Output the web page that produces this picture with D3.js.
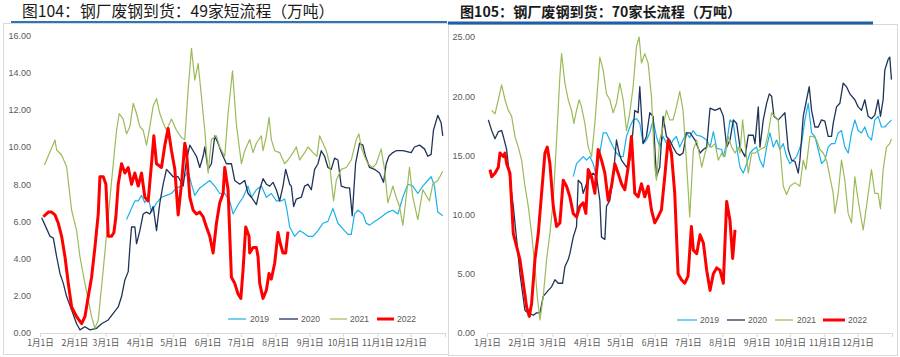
<!DOCTYPE html>
<html><head><meta charset="utf-8">
<script src="https://cdn.jsdelivr.net/npm/d3@7"></script>
<style>body{margin:0;background:#fff}svg{display:block}</style>
</head><body>
<script>
// ---------- data ----------
const monthDays = [0,31,59,90,120,151,181,212,243,273,304,334];
const monthLabels = ["1月1日","2月1日","3月1日","4月1日","5月1日","6月1日","7月1日","8月1日","9月1日","10月1日","11月1日","12月1日"];
const seriesNames = ["2019","2020","2021","2022"];
const leftTitle = "图104：钢厂废钢到货：49家短流程（万吨）";
const rightTitle = "图105：钢厂废钢到货：70家长流程（万吨）";
const leftYTicks = [0,2,4,6,8,10,12,14,16];
const rightYTicks = [0,5,10,15,20,25];

// left chart: [day of year, value]
const left2019 = [[78,6.1],[81,6.5],[85.5,7.1],[88.5,7.1],[91.5,7.4],[94.5,7.0],[97.5,7.3],[100.5,6.5],[105,7.0],[109.5,7.3],[114,7.4],[118.5,7.5],[123,7.8],[127.5,7.9],[130.5,8.4],[133.5,8.7],[136.5,8.0],[139.5,7.4],[144,7.8],[148.5,8.0],[153,8.2],[157.5,7.9],[162,7.5],[166.5,7.5],[171,7.1],[174,6.4],[178.5,6.9],[183,7.3],[187.5,7.9],[190.5,7.3],[195,7.7],[199.5,7.9],[204,7.3],[208.5,7.5],[213,7.1],[217.5,7.1],[220.5,7.2],[222.6,6.6],[225,5.7],[229.5,5.2],[234,5.5],[237,5.4],[241.5,5.2],[246,5.2],[250.5,5.5],[255,5.9],[259.5,6.0],[264,6.7],[268.5,5.9],[273,5.6],[277.5,5.3],[280.5,5.3],[283.5,6.4],[286.5,6.6],[291,6.4],[294,5.9],[297,5.8],[301.5,6.0],[304.5,6.1],[309,6.3],[313.5,6.5],[318,6.6],[322.5,6.4],[327,7.3],[331.5,8.0],[336,7.9],[340.5,7.5],[345,7.9],[349.5,8.2],[352.5,8.4],[355.5,7.9],[358.5,6.5],[363,6.3]];
const left2020 = [[1.5,6.2],[4.5,5.8],[9,5.2],[12,5.1],[15,4.1],[18,3.2],[21,2.67],[24,1.96],[28.5,1.24],[33,0.5],[36,0.17],[40.5,0.34],[45,0.17],[51,0.25],[55.5,0.5],[61.5,0.7],[66,1.06],[70.5,1.4],[73.5,1.96],[76.5,2.85],[79.5,3.3],[81,4.6],[82.5,5.7],[85.5,5.7],[87,4.8],[90,5.5],[93,6.4],[96,6.5],[99,6.4],[102,6.8],[105,5.5],[108,7.0],[111,8.0],[114,8.8],[117,8.6],[120,8.4],[124.5,8.4],[129,7.9],[132,9.3],[135,10.1],[138,9.8],[141,9.5],[144,8.9],[147,9.5],[148.5,10.0],[151.5,8.8],[154.5,9.1],[157.5,10.6],[160.5,10.2],[163.5,9.7],[168,9.1],[172.5,9.1],[175.5,8.2],[180,8.0],[184.5,8.2],[187.5,7.5],[190.5,7.3],[195,6.9],[198,7.7],[201,8.3],[204,8.0],[207,7.9],[210,8.1],[213,7.7],[216,7.1],[219,7.9],[221.4,8.8],[225,8.0],[226.5,7.9],[228.6,6.8],[231,7.2],[235.5,7.3],[238.5,7.9],[241.5,8.0],[244.5,7.7],[247.5,8.8],[250.5,9.1],[253.5,9.8],[256.5,9.5],[259.5,8.9],[262.5,8.8],[265.5,9.4],[268.5,9.3],[271.5,7.9],[276,7.8],[279,7.8],[281.4,6.3],[284.4,9.1],[288,10.2],[291,10.1],[293.4,9.5],[297,8.9],[301.5,8.8],[306,8.6],[309.6,8.1],[312,9.1],[314.4,9.5],[318,9.7],[321,9.8],[327,9.8],[334.5,9.7],[337.5,10.0],[342,10.1],[346.5,9.9],[349.5,9.5],[352.5,9.6],[354.6,10.9],[358.5,11.7],[361.5,11.3],[363,10.6]];
const left2021 = [[4,9.03],[13.5,10.38],[15,9.84],[19.5,9.57],[24,8.94],[28.5,6.6],[33,5.5],[36,4.1],[40.5,2.67],[46.5,0.88],[49.5,0.25],[52.5,0.7],[57,3.4],[61.5,6.25],[66,9.1],[69,10.9],[71.4,11.8],[75,11.5],[78,10.7],[81,11.1],[84,12.35],[87,11.8],[90,11.1],[93,10.9],[96,10.1],[99,11.1],[102,12.2],[105,12.6],[108,11.8],[111,11.3],[114,10.9],[118.5,11.5],[123,10.9],[127.5,10.5],[130.5,10.4],[133.5,13.1],[136.5,15.3],[139.5,13.6],[142.5,14.5],[145.5,12.7],[148.5,10.9],[151.5,8.6],[154.5,10.4],[159,10.6],[162,10.0],[166.5,9.5],[169.5,11.8],[173.5,14.1],[177,11.2],[181.5,9.1],[184.5,9.8],[189,10.4],[192,9.7],[195,10.2],[199.5,10.6],[201,9.8],[204,10.6],[206.4,11.6],[208.5,10.4],[211.5,9.8],[216,9.7],[220.5,9.1],[223.5,9.3],[228,9.7],[231,10.0],[234,9.3],[238.5,9.7],[241.5,10.0],[246,9.7],[249.6,9.5],[252,10.6],[255,10.2],[258,9.8],[261,9.1],[262.5,8.2],[264.6,7.1],[267,8.2],[271.5,8.8],[276,8.9],[280.5,9.3],[285,10.4],[287.4,10.7],[289.5,10.0],[292.5,9.5],[295.5,9.1],[300,8.9],[303,9.1],[307.5,9.9],[310.5,8.8],[313.5,7.0],[318,7.9],[321,7.3],[324,6.8],[327,5.8],[330,7.3],[333,8.9],[336,7.3],[340.5,6.1],[345,7.7],[351,7.1],[354,8.0],[358.5,8.2],[363,8.7]];
const left2022 = [[3,6.25],[7.5,6.5],[10.5,6.5],[13.5,6.35],[16.5,5.9],[19.5,5.2],[22.5,4.1],[25.5,2.67],[28.5,1.4],[33,0.88],[37.5,0.5],[40.5,0.88],[43.5,1.96],[46.5,3.0],[49.5,4.6],[52.5,6.4],[54,8.4],[57,8.4],[59.4,8.0],[61.5,5.2],[64.5,5.2],[66.6,5.4],[68.4,6.25],[70.5,8.0],[73.5,9.1],[76.5,8.6],[79.5,8.9],[82.5,8.0],[85.5,8.6],[88.5,7.9],[91.5,8.6],[94.5,7.3],[97.5,7.1],[100.5,9.1],[102.6,10.6],[105,9.1],[109.5,8.9],[112.5,10.1],[115.5,11.0],[118.5,9.8],[121.5,8.8],[124.5,6.35],[127.5,8.0],[130.5,10.2],[132,9.8],[135,7.3],[138,6.6],[141,6.4],[144,6.5],[147,6.25],[150,5.7],[153,5.2],[156,4.3],[159,5.9],[162,7.0],[165,7.5],[166.5,8.9],[169.5,7.7],[172.5,3.0],[175.5,2.67],[178.5,2.1],[181,1.86],[183,3.4],[185.4,5.7],[188.4,5.2],[189,4.3],[192,4.6],[195,4.6],[196.5,4.1],[198,2.67],[201,1.86],[204,2.3],[206.4,3.2],[208.5,2.9],[211.5,3.75],[214.5,5.4],[216.6,4.8],[219,4.3],[221.4,4.3],[223.5,5.45]];

// right chart
const right2019 = [[77.7,13.2],[80.7,14.3],[83.7,14.6],[86.7,14.9],[89.7,14.6],[92.7,14.9],[95.7,14.3],[98.7,13.2],[101.7,15.2],[104.7,16.9],[107.7,16.9],[110.7,16.3],[113.7,15.7],[116.7,15.2],[119.7,14.9],[122.7,14.9],[125.7,16.6],[128.7,17.4],[131.7,18.0],[134.7,18.1],[137.7,17.7],[140.7,16.0],[143.7,16.3],[146.7,16.9],[149.7,18.0],[152.7,16.6],[155.7,15.7],[158.7,16.6],[161.7,16.0],[164.7,15.7],[167.7,16.3],[170.7,16.6],[173.7,15.7],[176.7,16.3],[179.7,16.9],[182.7,16.5],[185.7,17.1],[189,16.7],[193.5,16.6],[198,16.3],[201,15.7],[204,17.0],[207,15.6],[211.5,15.5],[213,14.9],[216,16.0],[219,18.0],[222,17.7],[225,15.7],[228,14.0],[231,13.5],[234,14.3],[237,15.2],[240,15.5],[243,15.7],[246,14.6],[249,14.0],[252,15.7],[255,16.9],[258,15.7],[261,16.3],[264,15.5],[267,16.0],[270,14.9],[273,14.3],[276,14.6],[279,14.9],[283.5,16.0],[286.5,18.0],[289.5,19.4],[292.5,16.9],[295.5,16.6],[298.5,15.5],[301.5,14.3],[304.5,14.6],[307.5,15.7],[310.5,16.0],[313.5,16.0],[316.5,16.9],[319.5,17.1],[322.5,15.7],[325.5,15.2],[328.5,16.9],[331.5,18.0],[334.5,17.1],[337.5,16.9],[340.5,17.4],[343.5,16.6],[346.5,16.3],[349.5,18.0],[352.5,18.3],[355.5,17.4],[358.5,17.4],[361.5,17.7],[364.5,18.0]];
const right2020 = [[1.2,18.0],[4.2,17.1],[7.2,16.4],[10.2,17.0],[13.2,17.1],[14.7,16.6],[17.7,15.5],[20.7,12.9],[23.7,10.7],[26.7,7.9],[29.7,5.0],[34.2,1.9],[37.2,1.7],[41.7,1.5],[44.7,1.7],[47.7,1.7],[50.7,3.1],[55.2,3.6],[58.2,3.9],[61.2,4.5],[64.2,4.2],[68.1,4.2],[70.2,5.6],[73.2,6.2],[74.7,6.7],[77.7,8.1],[80.7,9.0],[82.2,12.9],[85.2,12.6],[86.7,11.8],[89.7,12.6],[92.7,13.2],[95.7,13.5],[98.7,13.2],[101.7,11.2],[103.2,8.1],[106.2,7.9],[107.7,10.7],[110.7,11.2],[113.7,13.2],[116.7,16.3],[119.1,15.2],[121.2,14.6],[125.7,14.0],[128.7,14.6],[130.2,15.7],[133.2,18.8],[136.2,18.6],[137.7,20.8],[140.7,16.0],[143.7,16.6],[146.7,18.6],[149.7,18.3],[152.7,13.2],[155.7,14.0],[158.7,18.3],[161.7,16.6],[164.7,16.3],[167.7,15.7],[170.7,15.2],[173.7,15.0],[176.7,15.2],[179.7,16.9],[183,16.9],[187.5,16.3],[192,15.2],[195,15.5],[198,15.7],[201,19.0],[205.5,18.8],[210,19.0],[213,18.3],[216,15.7],[219,16.3],[222,18.0],[225,17.7],[228,15.7],[232.5,14.9],[235.5,16.7],[240,16.7],[241.5,16.0],[244.5,19.1],[246,15.7],[249,18.0],[252,19.4],[254.4,20.2],[256.5,20.0],[258.6,18.3],[262.5,18.0],[265.5,18.3],[268.5,18.6],[271.5,15.5],[274.5,14.6],[277.5,14.5],[280.5,13.5],[282,14.6],[285,18.3],[288,19.7],[290.4,20.8],[292.5,18.8],[295.5,17.4],[298.5,17.4],[301.5,18.0],[304.5,17.9],[307.5,16.6],[310.5,16.6],[312,17.7],[315,19.1],[318,19.4],[321,21.1],[324,20.8],[327,20.2],[331.5,19.7],[334.5,19.1],[337.5,18.8],[340.5,19.7],[343.5,18.3],[346.5,18.1],[349.5,18.4],[352.5,19.7],[354.6,18.3],[357,19.7],[358.5,22.2],[361.5,23.1],[363,23.3],[364.5,21.4]];
const right2021 = [[4.2,18.8],[7.2,18.5],[10.2,19.7],[13.2,20.95],[16.2,19.7],[19.2,18.8],[22.2,18.3],[25.2,16.6],[28.2,15.7],[31.2,14.6],[34.2,12.4],[37.2,10.7],[40.2,8.4],[43.2,5.6],[45.3,3.1],[47.7,1.1],[50.7,3.1],[53.7,6.2],[56.7,8.4],[59.7,11.2],[62.7,16.3],[65.7,21.7],[67.2,23.6],[70.2,21.1],[73.2,19.7],[76.2,18.8],[78.3,17.7],[80.7,18.8],[83.1,19.7],[85.2,19.1],[88.2,17.7],[91.2,15.7],[94.2,14.9],[97.2,17.7],[100.2,21.4],[101.7,23.3],[104.7,22.2],[107.7,20.2],[110.7,19.7],[113.7,18.6],[116.7,19.4],[119.7,21.1],[122.7,19.7],[125.7,17.1],[128.7,18.6],[131.7,20.8],[134.7,24.2],[137.1,25.0],[139.2,22.8],[142.2,23.6],[145.2,22.8],[148.2,20.0],[151.2,14.0],[152.7,12.9],[155.7,16.3],[158.7,17.4],[161.7,18.8],[164.7,18.0],[167.7,18.0],[170.7,19.1],[173.7,20.4],[176.7,18.8],[179.7,14.6],[182.7,9.8],[186,15.5],[189,16.3],[193.5,14.0],[196.5,15.2],[199.5,16.0],[202.5,15.7],[205.5,16.0],[208.5,14.6],[211.5,15.2],[214.5,14.9],[217.5,16.6],[220.5,15.7],[223.5,15.2],[226.5,15.7],[228,15.2],[230.4,18.0],[232.5,16.0],[235.5,13.5],[238.5,15.2],[241.5,15.2],[246,15.5],[250.5,15.7],[253.5,16.9],[256.5,18.6],[259.5,18.3],[262.5,18.0],[264,15.7],[267,12.4],[270,11.7],[273,12.4],[277.5,12.7],[282,12.4],[285,14.6],[287.4,13.8],[291,16.6],[294,16.6],[297,16.3],[300,15.5],[303,15.2],[306,14.6],[309,13.2],[312,11.8],[313.5,10.1],[316.5,11.8],[319.5,14.6],[322.5,12.9],[325.5,10.1],[328.5,9.3],[331.5,13.2],[334.5,11.2],[339,8.7],[342,10.7],[346.5,13.8],[349.5,11.8],[352.5,11.8],[354.6,10.5],[357,13.8],[360,15.7],[363,16.0],[364.5,16.4]];
const right2022 = [[2.7,13.8],[4.2,13.2],[7.2,13.5],[10.2,14.0],[11.7,15.2],[14.7,14.9],[16.2,15.2],[17.7,14.3],[20.7,13.5],[23.7,8.4],[26.7,7.3],[29.7,6.2],[32.7,4.2],[35.7,2.2],[38.1,1.4],[40.2,2.5],[43.2,6.2],[46.2,8.4],[49.2,11.8],[52.2,15.2],[54.3,15.7],[56.7,14.3],[59.7,10.7],[62.7,9.0],[65.7,9.3],[68.7,12.9],[71.7,12.4],[74.7,11.5],[77.7,10.1],[80.7,9.8],[83.7,10.7],[86.7,11.0],[89.1,10.1],[91.2,13.8],[94.2,13.2],[97.2,11.8],[100.2,15.5],[103.2,14.6],[106.2,13.5],[109.2,11.2],[112.2,12.4],[115.2,14.3],[118.2,13.5],[121.2,12.6],[124.2,12.1],[127.2,14.0],[130.2,16.6],[133.2,11.8],[136.2,11.5],[139.2,12.6],[142.2,11.5],[145.2,12.4],[148.2,10.4],[151.2,9.3],[154.2,9.8],[157.2,10.4],[160.2,13.2],[163.2,16.3],[166.2,15.2],[169.2,11.8],[172.2,5.0],[175.2,4.5],[178.2,4.2],[181.2,4.8],[184.2,9.0],[186,7.0],[189,6.7],[192,8.3],[195,7.6],[198,5.3],[201,3.6],[204,5.0],[207,5.5],[210,5.3],[213,4.2],[216,11.1],[219,9.5],[221.4,6.3],[223.5,8.7]];

// ---------- drawing ----------
const colors = ["#1ab0ea","#1f3458","#9bbb59","#ff0000"];
const widths = [1.2,1.3,1.2,3];
const numFont = "'Liberation Sans', Arial, sans-serif";
const cjkFont = "'Noto Sans CJK SC', sans-serif";

const svg = d3.select("body").append("svg").attr("width",900).attr("height",357);
svg.append("rect").attr("width",900).attr("height",357).attr("fill","#fff");

function panel(cfg){
  const g = svg.append("g");
  g.append("rect").attr("x",cfg.frame[0]+0.5).attr("y",cfg.frame[1]+0.5)
    .attr("width",cfg.frame[2]-cfg.frame[0]).attr("height",cfg.frame[3]-cfg.frame[1])
    .attr("fill","none").attr("stroke","#d9d9d9").attr("stroke-width",1);
  g.append("line").attr("x1",cfg.bar[0]).attr("x2",cfg.bar[1]).attr("y1",cfg.bar[2]).attr("y2",cfg.bar[2])
    .attr("stroke",cfg.barColor).attr("stroke-width",cfg.barW);
  g.append("text").attr("x",cfg.titleX).attr("y",16.5).text(cfg.title)
    .attr("font-family",cjkFont).attr("font-size",cfg.titleSize).attr("font-weight",cfg.titleWeight).attr("fill","#1a1a1a");

  const x = d3.scaleLinear().domain([0,365]).range(cfg.xr);
  const y = d3.scaleLinear().domain([0,cfg.ymax]).range([333,cfg.ytop]);

  const xa = g.append("g").attr("transform","translate(0,333)")
    .call(d3.axisBottom(x).tickValues(monthDays.concat([365])).tickSize(4)
      .tickFormat((d,i)=> i<monthLabels.length ? monthLabels[i] : ""));
  xa.select(".domain").attr("stroke","#d9d9d9");
  xa.selectAll(".tick line").attr("stroke","#d9d9d9");
  xa.selectAll(".tick text").attr("font-family",cjkFont).attr("font-size",8.6).attr("fill","#595959").attr("dy","0.35em").attr("y",10);

  const ya = g.append("g").attr("transform",`translate(${cfg.xr[0]},0)`)
    .call(d3.axisLeft(y).tickValues(cfg.yticks).tickSize(0).tickPadding(cfg.pad).tickFormat(d3.format(".2f")));
  ya.select(".domain").remove();
  ya.selectAll(".tick text").attr("font-family",numFont).attr("font-size",9).attr("fill","#595959");

  const line = d3.line().x(d=>x(d[0])).y(d=>y(d[1]));
  cfg.data.forEach((s,i)=>{
    g.append("path").datum(s).attr("d",line).attr("fill","none")
      .attr("stroke",colors[i]).attr("stroke-width",widths[i]).attr("stroke-linejoin","round");
  });

  const lg = g.append("g");
  cfg.legend.forEach((lx,i)=>{
    lg.append("line").attr("x1",lx[0]).attr("x2",lx[1]).attr("y1",cfg.legY).attr("y2",cfg.legY)
      .attr("stroke",colors[i]).attr("stroke-width",widths[i]);
    lg.append("text").attr("x",lx[2]).attr("y",cfg.legY).attr("dy","0.35em").text(seriesNames[i])
      .attr("font-family",numFont).attr("font-size",8.6).attr("fill","#595959");
  });
}

panel({frame:[3,23,448,354], bar:[11,447,22], barColor:"#2e75b6", barW:2,
  title:leftTitle, titleX:22, titleSize:15.8, titleWeight:400,
  xr:[40,445], ymax:16, ytop:35.4, yticks:leftYTicks, pad:9,
  data:[left2019,left2020,left2021,left2022],
  legend:[[228,246,250],[279,298,301],[330,347,350],[377,394,397]], legY:319});

panel({frame:[448,24,897,355], bar:[448,873,23], barColor:"#1f5fa6", barW:3,
  title:rightTitle, titleX:460, titleSize:14.1, titleWeight:700,
  xr:[487,892], ymax:25, ytop:37, yticks:rightYTicks, pad:12,
  data:[right2019,right2020,right2021,right2022],
  legend:[[677,697,700],[727,745,748],[775,793,797],[823,845,848]], legY:320});
</script>
</body></html>
